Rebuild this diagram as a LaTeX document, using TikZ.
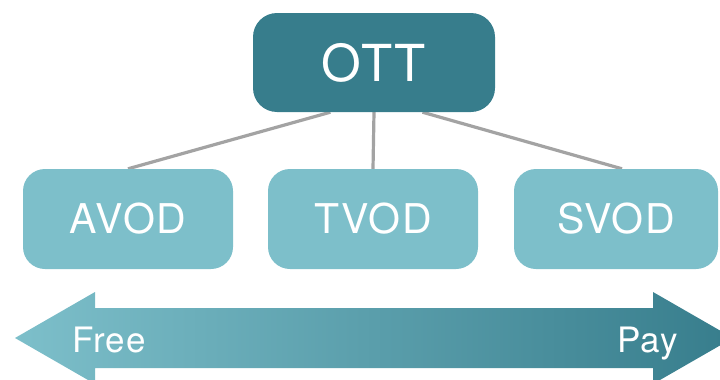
\documentclass[tikz,border=0pt]{standalone}
\usepackage{fontspec}
\setmainfont{TeX Gyre Heros}
\usetikzlibrary{calc,backgrounds}
\definecolor{ottteal}{HTML}{377D8C}
\definecolor{lightteal}{HTML}{7DBFCA}
\definecolor{linkgrey}{HTML}{A3A3A3}
\tikzset{
  topbox/.style={draw=none, fill=ottteal, rounded corners=24pt, text=white,
    minimum width=242pt, minimum height=99pt,
    font=\fontsize{51}{51}\selectfont\addfontfeature{LetterSpace=4}},
  modelbox/.style={draw=none, fill=lightteal, rounded corners=22pt, text=white,
    minimum height=100pt,
    font=\fontsize{41}{41}\selectfont\addfontfeature{LetterSpace=4}},
  link/.style={draw=linkgrey, line width=3.2pt},
  endlabel/.style={text=white, inner sep=0pt,
    font=\fontsize{35}{35}\selectfont\addfontfeature{LetterSpace=3}}
}
\begin{document}
\begin{tikzpicture}[x=1pt, y=-1pt]
  \clip (0,0) rectangle (720,380);
  \useasboundingbox (0,0) rectangle (720,380);

  % OTT and its three business models
  \node[topbox] (ott) at (374,62.5) {OTT};
  \node[modelbox, minimum width=210pt] (avod) at (128,219) {AVOD};
  \node[modelbox, minimum width=210pt] (tvod) at (373,219) {TVOD};
  \node[modelbox, minimum width=204pt] (svod) at (616,219) {SVOD};

  \begin{scope}[on background layer]
    \draw[link] ($(ott.south west)!0.32!(ott.south east)$) -- (avod.north);
    \draw[link] (ott.south) -- (tvod.north);
    \draw[link] ($(ott.south west)!0.70!(ott.south east)$) -- ($(svod.north)+(6,0)$);
  \end{scope}

  % Double-headed free-to-pay arrow
  \path[left color=lightteal, right color=ottteal]
    (15,338) -- (95,292) -- (95,308) -- (653,308) -- (653,292) -- (733,338)
    -- (653,384) -- (653,368) -- (95,368) -- (95,384) -- cycle;
  \node[endlabel, anchor=base west] (free) at (72,352) {Free};
  \node[endlabel, anchor=base east] (pay) at (678,352) {Pay};
\end{tikzpicture}
\end{document}
